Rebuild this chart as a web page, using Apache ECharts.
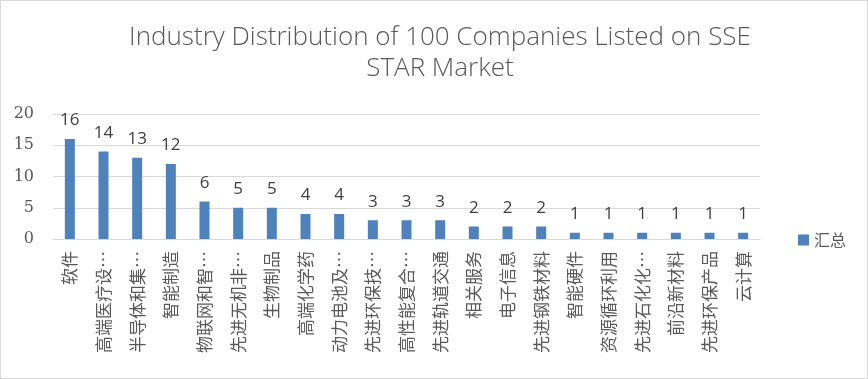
<!DOCTYPE html>
<html><head><meta charset="utf-8">
<script src="https://cdn.jsdelivr.net/npm/echarts@6/dist/echarts.min.js"></script>
<style>html,body{margin:0;padding:0;background:#fff}#c{width:866px;height:377px;border:1px solid #d9d9d9}</style>
</head><body><div id="c"></div>
<script>
var categories = ["软件","高端医疗设…","半导体和集…","智能制造","物联网和智…","先进无机非…","生物制品","高端化学药","动力电池及…","先进环保技…","高性能复合…","先进轨道交通","相关服务","电子信息","先进钢铁材料","智能硬件","资源循环利用","先进石化化…","前沿新材料","先进环保产品","云计算"];
var values = [16,14,13,12,6,5,5,4,4,3,3,3,2,2,2,1,1,1,1,1,1];
var yTicks = {min:0,max:20,interval:5};
var seriesName = "汇总";
var chart = echarts.init(document.getElementById('c'));
chart.setOption({
  animation:false,
  title:{text:"Industry Distribution of 100 Companies Listed on SSE\nSTAR Market",left:434,top:16,textAlign:'center',
    textStyle:{fontFamily:'Open Sans',fontWeight:300,fontSize:26,color:'#595959',lineHeight:31}},
  legend:{data:[seriesName],orient:'horizontal',left:792,top:226,itemWidth:11,itemHeight:11,itemGap:4,
    icon:'rect',
    textStyle:{fontFamily:'Noto Sans CJK SC',fontSize:16,color:'#595959'}},
  grid:{left:52,right:107,top:113,bottom:139},
  xAxis:{type:'category',data:categories,
    axisLine:{lineStyle:{color:'#d9d9d9'}},axisTick:{show:false},
    axisLabel:{rotate:90,interval:0,margin:12,fontFamily:'Noto Sans CJK SC',fontSize:17,color:'#595959'}},
  yAxis:{type:'value',min:yTicks.min,max:yTicks.max,interval:yTicks.interval,
    axisLine:{show:false},axisTick:{show:false},
    splitLine:{lineStyle:{color:'#d9d9d9'}},
    axisLabel:{margin:19,fontFamily:'DejaVu Serif',fontSize:16,color:'#595959'}},
  series:[{name:seriesName,type:'bar',data:values,barWidth:10,
    itemStyle:{color:'#4f81bd'},
    label:{show:true,position:'top',distance:10,fontFamily:'Open Sans',fontSize:17,color:'#404040'}}]
});
</script></body></html>
